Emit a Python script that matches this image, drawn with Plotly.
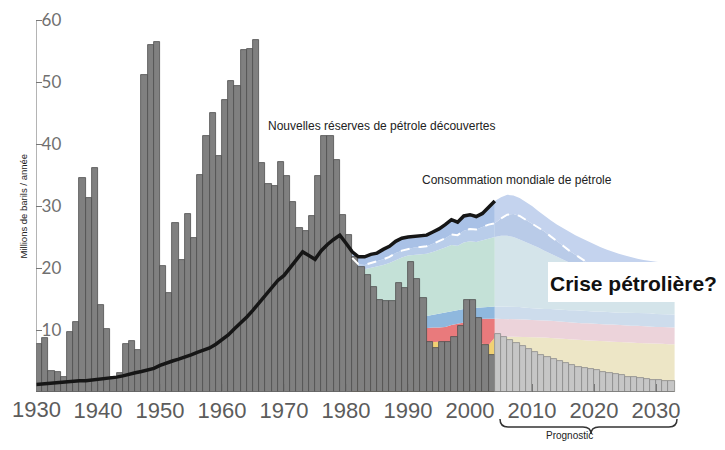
import plotly.graph_objects as go

# ---------------- data ----------------
years_hist = list(range(1930, 2004))
discoveries = [
    7.7, 8.7, 3.4, 3.3, 2.5, 9.6, 11.3, 34.5, 31.3, 36.2,
    14.0, 10.2, 2.4, 3.1, 7.7, 8.2, 6.8, 51.1, 56.0, 56.4,
    20.3, 16.0, 27.3, 21.3, 28.7, 24.8, 35.0, 41.3, 45.0, 38.1,
    47.1, 50.2, 49.3, 55.2, 55.4, 56.7, 36.9, 33.6, 33.2, 37.1,
    34.8, 30.7, 26.4, 25.9, 28.4, 34.8, 41.3, 41.3, 37.5, 28.5,
    25.3, 21.8, 20.2, 18.9, 17.0, 14.8, 14.6, 14.6, 17.6, 16.7,
    21.0, 18.2, 15.1, 8.1, 7.1, 8.0, 8.1, 8.9, 10.6, 14.9,
    14.9, 12.0, 7.6, 6.0,
]
years_fc = list(range(2004, 2033))
discoveries_fc = [
    9.3, 8.9, 8.4, 7.9, 7.4, 6.9, 6.4, 6.0, 5.6, 5.3,
    5.0, 4.7, 4.4, 4.1, 3.9, 3.7, 3.5, 3.3, 3.1, 2.9,
    2.7, 2.5, 2.4, 2.2, 2.1, 2.0, 1.9, 1.8, 1.7,
]
years_cons = list(range(1930, 2005))
consumption = [
    1.2, 1.3, 1.3, 1.4, 1.5, 1.6, 1.7, 1.8, 1.8, 1.9,
    2.0, 2.1, 2.2, 2.4, 2.6, 2.9, 3.1, 3.3, 3.5, 3.8,
    4.3, 4.7, 5.0, 5.3, 5.6, 6.0, 6.4, 6.8, 7.1, 7.7,
    8.4, 9.2, 10.2, 11.1, 12.1, 13.2, 14.4, 15.6, 16.9, 18.0,
    18.8, 20.0, 21.2, 22.6, 22.0, 21.4, 22.8, 23.8, 24.6, 25.3,
    24.0, 22.6, 21.8, 21.8, 22.2, 22.4, 23.0, 23.5, 24.3, 24.8,
    25.0, 25.1, 25.2, 25.3, 25.8, 26.3, 27.0, 27.8, 27.4, 28.4,
    28.6, 28.3, 28.8, 29.8, 30.8,
]

# production layers (tops of each stacked band), 1981..2033
years_area = list(range(1981, 2034))
yellow_top = [
    7.0, 7.1, 7.2, 7.3, 7.4, 7.5, 7.6, 7.7, 7.8, 7.9, 8.0, 8.0,
    8.0, 8.1, 8.1, 8.0, 8.0, 7.9, 7.9, 7.8, 7.8, 7.8, 7.6, 8.8,
    8.9, 8.9, 8.9, 8.9, 8.9, 8.9, 8.8, 8.8, 8.7, 8.7, 8.6, 8.5, 8.5, 8.4,
    8.3, 8.3, 8.2, 8.2, 8.1, 8.1, 8.0, 8.0, 7.9, 7.9, 7.8, 7.8, 7.8, 7.7, 7.7,
]
red_top = [
    9.2, 9.3, 9.4, 9.5, 9.6, 9.7, 9.8, 9.9, 10.0, 10.1, 10.2, 10.3,
    10.4, 10.4, 10.4, 10.5, 10.8, 11.0, 11.2, 11.4, 11.6, 11.8, 11.8, 11.8,
    11.8, 11.8, 11.8, 11.7, 11.7, 11.6, 11.6, 11.5, 11.5, 11.4, 11.3, 11.3, 11.2, 11.1,
    11.1, 11.0, 11.0, 10.9, 10.9, 10.8, 10.8, 10.7, 10.7, 10.6, 10.6, 10.5, 10.5, 10.5, 10.4,
]
blue_top = [
    10.6, 10.7, 10.8, 10.9, 11.0, 11.1, 11.2, 11.3, 11.5, 11.7, 11.9, 12.1,
    12.3, 12.4, 12.6, 12.8, 13.0, 13.2, 13.4, 13.5, 13.6, 13.7, 13.8, 13.8,
    13.8, 13.8, 13.7, 13.7, 13.6, 13.5, 13.5, 13.4, 13.4, 13.3, 13.3, 13.2, 13.2, 13.1,
    13.1, 13.0, 13.0, 12.9, 12.9, 12.8, 12.8, 12.8, 12.7, 12.7, 12.7, 12.6, 12.6, 12.6, 12.5,
]
mint_top = [
    20.8, 19.9, 19.8, 20.0, 20.2, 20.5, 20.8, 21.3, 21.7, 22.0, 22.1, 22.2,
    22.3, 22.6, 22.9, 23.3, 23.7, 23.6, 24.1, 24.3, 24.2, 24.5, 24.8, 25.0,
    25.2, 25.2, 25.0, 24.6, 24.2, 23.8, 23.3, 22.8, 22.3, 21.8, 21.3, 20.8, 20.4, 20.0,
    19.6, 19.2, 18.8, 18.4, 18.0, 17.6, 17.3, 17.0, 16.6, 16.3, 16.0, 15.7, 15.5, 15.3, 15.1,
]
dash_top = [
    21.6, 20.6, 20.5, 20.8, 21.0, 21.4, 21.8, 22.4, 22.8, 23.1, 23.3, 23.4,
    23.5, 23.9, 24.3, 24.8, 25.4, 25.3, 26.0, 26.3, 26.2, 26.6, 27.0, 27.2,
    28.0, 28.6, 28.7, 28.4, 27.8, 27.2, 26.6, 25.9, 25.1, 24.4, 23.6, 22.8, 22.1, 21.4,
    20.8, 20.3, 19.8, 19.4, 19.0, 18.6, 18.2, 17.8, 17.5, 17.2, 16.9, 16.6, 16.3, 16.0, 15.8,
]
top_forecast = [  # 2005..2033
    31.4, 31.8, 31.7, 31.3, 30.7, 30.0, 29.2, 28.4, 27.7, 27.0,
    26.4, 25.8, 25.3, 24.8, 24.3, 23.9, 23.4, 23.0, 22.6, 22.3,
    22.0, 21.7, 21.5, 21.3, 21.1, 21.0, 20.9, 20.8, 20.7,
]
top_band = consumption[years_cons.index(1981):] + top_forecast

x_ticks = list(range(1930, 2031, 10))
x_ticktext = [str(v) for v in x_ticks]
y_ticks = [10, 20, 30, 40, 50, 60]

# ---------------- figure ----------------
fig = go.Figure()

layers = [yellow_top, red_top, blue_top, mint_top, dash_top, top_band]
hist_colors = ["#f1d173", "#e97a7c", "#8fb8de", "#c4e1d7", "#b9cdea", "#a9c1e6"]
fc_colors = ["#ede6c6", "#ecd3da", "#cddcec", "#d4e4ea", "#b9cbe8", "#c4d3ee"]

split = years_area.index(2004)
for seg, colors in (("hist", hist_colors), ("fc", fc_colors)):
    sl = slice(0, split + 1) if seg == "hist" else slice(split, len(years_area))
    for i, (vals, col) in enumerate(zip(layers, colors)):
        fig.add_trace(go.Scatter(
            x=years_area[sl], y=vals[sl], mode="lines",
            line=dict(width=0, color=col),
            fill="tozeroy" if i == 0 else "tonexty",
            fillcolor=col, hoverinfo="skip", showlegend=False,
            xaxis="x", yaxis="y",
        ))

# bars on overlay axes so they are drawn above the area fills
fig.add_trace(go.Bar(
    x=[y + 0.5 for y in years_hist], y=discoveries, width=1,
    marker=dict(color="#808080", line=dict(color="#4e4e4e", width=0.8)),
    xaxis="x2", yaxis="y2", showlegend=False,
))
fig.add_trace(go.Bar(
    x=[y + 0.5 for y in years_fc], y=discoveries_fc, width=1,
    marker=dict(color="#c6c6c6", line=dict(color="#8a8a8a", width=0.8)),
    xaxis="x2", yaxis="y2", showlegend=False,
))
# white dashed line
fig.add_trace(go.Scatter(
    x=years_area, y=dash_top, mode="lines",
    line=dict(color="white", width=2, dash="dash"),
    xaxis="x2", yaxis="y2", showlegend=False, hoverinfo="skip",
))
# consumption line
fig.add_trace(go.Scatter(
    x=years_cons, y=consumption, mode="lines",
    line=dict(color="#161616", width=3.5),
    xaxis="x2", yaxis="y2", showlegend=False,
))

# page geometry (the page body adds an 8px offset)
OFF = 8
PAGE_W, PAGE_H = 725, 450
PLOT_L, PLOT_R, PLOT_T, PLOT_B = 36, 725, 8, 392   # page pixel bounds of plot area
W, H = PAGE_W - OFF, PAGE_H - OFF
L, R, T, B = PLOT_L - OFF, PAGE_W - PLOT_R, PLOT_T - OFF, PAGE_H - PLOT_B
px_per_year = 6.2
px_per_unit = 6.2
pw = PLOT_R - PLOT_L
ph = PLOT_B - PLOT_T
x_end = 1930 + pw / px_per_year
y_end = ph / px_per_unit

def px(xp):
    return (xp - PLOT_L) / pw

def py(yp):
    return (PLOT_B - yp) / ph

tick_font = dict(size=22, family="Liberation Sans Narrow, Arial Narrow, sans-serif",
                 color="#5c5c5c")

fig.update_layout(
    width=W, height=H,
    margin=dict(l=L, r=R, t=T, b=B, pad=0),
    paper_bgcolor="white", plot_bgcolor="white",
    barmode="overlay", bargap=0,
    showlegend=False,
    xaxis=dict(
        range=[1929.99, x_end], tickvals=x_ticks, ticktext=x_ticktext,
        ticks="inside", ticklen=8, tickcolor="#777", tickwidth=1,
        showline=False, showgrid=False, zeroline=False, automargin=False,
        tickfont=tick_font, ticklabelstandoff=3,
    ),
    yaxis=dict(
        range=[0, y_end], tickvals=y_ticks,
        ticks="inside", ticklen=6, tickcolor="#777", tickwidth=1,
        ticklabelposition="inside", automargin=False,
        showline=False, showgrid=False, zeroline=False,
        tickfont=dict(size=17, family="Lato, Open Sans, sans-serif", color="#707070"),
    ),
    xaxis2=dict(overlaying="x", range=[1929.99, x_end], visible=False),
    yaxis2=dict(overlaying="y", range=[0, y_end], visible=False),
)

# axis lines: y from 0 to 60, x baseline under the bars
fig.add_shape(type="line", xref="x", yref="y", x0=1930, x1=1930, y0=0, y1=60,
              line=dict(color="#777", width=1))
fig.add_shape(type="line", xref="x", yref="y", x0=1930, x1=years_fc[-1] + 1, y0=0, y1=0,
              line=dict(color="#666", width=1))

# the first tick label sits on the y axis and is hidden by plotly; draw it as text
fig.add_annotation(xref="x", yref="paper", x=x_ticks[0], y=0, yanchor="top", yshift=-3,
                   text=x_ticktext[0], showarrow=False, font=tick_font)

# white box behind the "Crise pétrolière?" label
fig.add_shape(type="rect", xref="paper", yref="paper", layer="above",
              x0=px(548), x1=px(730), y0=py(302), y1=py(262),
              fillcolor="white", line=dict(width=0))

# bracket under forecast
x0, xc, x1 = px(500), px(591), px(677)
d = 8 / pw
ya, yb, yc = py(419), py(427), py(434)
path = (f"M {x0},{ya} Q {x0},{yb} {x0 + d},{yb} L {xc - d},{yb} "
        f"Q {xc},{yb} {xc},{yc} Q {xc},{yb} {xc + d},{yb} "
        f"L {x1 - d},{yb} Q {x1},{yb} {x1},{ya}")
fig.add_shape(type="path", xref="paper", yref="paper", path=path,
              line=dict(color="#333", width=1.5))

ann_font = "Liberation Sans, Arial, sans-serif"
fig.add_annotation(xref="paper", yref="paper", x=px(595), y=py(443),
                   text="Prognostic", showarrow=False,
                   font=dict(size=10, family=ann_font, color="#222"))
fig.add_annotation(xref="paper", yref="paper", x=px(15), y=py(206),
                   text="Millions de barils / année", textangle=-90, showarrow=False,
                   font=dict(size=9.5, family=ann_font, color="#222"))
fig.add_annotation(xref="paper", yref="paper", x=px(266), y=py(117), xanchor="left",
                   text="Nouvelles réserves de pétrole découvertes", showarrow=False,
                   font=dict(size=12, family=ann_font, color="#222"))
fig.add_annotation(xref="paper", yref="paper", x=px(420), y=py(180), xanchor="left",
                   text="Consommation mondiale de pétrole", showarrow=False,
                   font=dict(size=12, family=ann_font, color="#222"))
fig.add_annotation(xref="paper", yref="paper", x=px(549), y=py(283), xanchor="left",
                   yanchor="middle", text="<b>Crise pétrolière?</b>", showarrow=False,
                   borderpad=0,
                   font=dict(size=21, family=ann_font, color="#111"))

fig.write_html("out.html")
